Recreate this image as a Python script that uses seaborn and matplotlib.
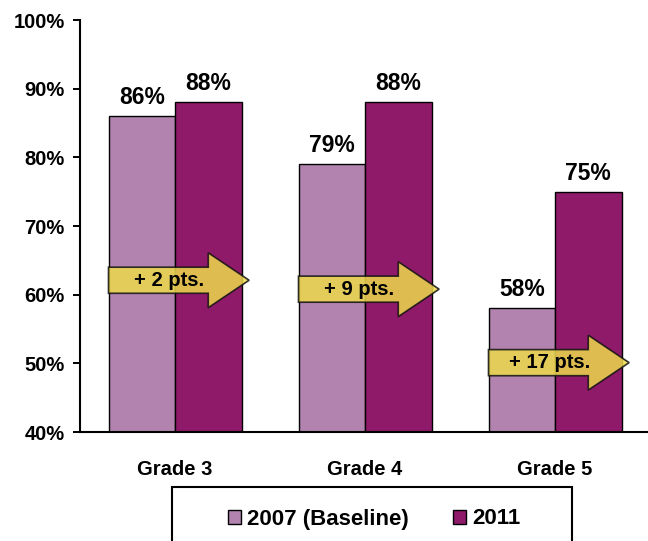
# Grade-level results: 2007 baseline vs 2011

import pandas as pd
import matplotlib.pyplot as plt
import seaborn as sns
from matplotlib.patches import FancyArrow, Rectangle

grades = ["Grade 3", "Grade 4", "Grade 5"]
years = ["2007 (Baseline)", "2011"]
baseline_2007 = [86, 79, 58]
results_2011 = [88, 88, 75]
y_ticks = [40, 50, 60, 70, 80, 90, 100]
arrow_y = [62.1, 60.8, 50.1]   # vertical centre of each "+ n pts." arrow

light = "#B183AE"
dark = "#8F1A6A"

sns.set_style("white")
plt.rcParams["font.family"] = ["Liberation Sans", "DejaVu Sans"]
plt.rcParams["font.weight"] = "bold"
plt.rcParams["text.color"] = "black"
plt.rcParams["xtick.color"] = "black"
plt.rcParams["ytick.color"] = "black"

df = pd.DataFrame({
    "grade": grades * 2,
    "year": [years[0]] * 3 + [years[1]] * 3,
    "value": baseline_2007 + results_2011,
})

fig = plt.figure(figsize=(6.48, 5.41), dpi=100)
ax = fig.add_axes([80 / 648, 1 - 432 / 541, 570 / 648, 412 / 541])

sns.barplot(data=df, x="grade", y="value", hue="year", palette=[light, dark],
            saturation=1, width=0.7, edgecolor="black", linewidth=1, ax=ax, legend=True)

ax.set_ylim(40, 100)
ax.set_xlim(-0.5, 2.5)
ax.set_yticks(y_ticks)
ax.set_yticklabels([f"{v}%" for v in y_ticks], fontsize=14.5, fontweight="bold")
ax.set_xticks(range(len(grades)))
ax.set_xticklabels(grades, fontsize=14.5, fontweight="bold")
ax.set_xticks([-0.5, 0.5, 1.5, 2.5], minor=True)
ax.tick_params(axis="x", which="major", length=0, pad=20)
ax.tick_params(axis="x", which="minor", length=5, width=1.4, direction="out", color="black")
ax.tick_params(axis="y", length=5, width=1.4, direction="out", color="black", pad=6, left=True)
ax.set_xlabel("")
ax.set_ylabel("")
sns.despine(ax=ax)
for side in ["left", "bottom"]:
    ax.spines[side].set_linewidth(1.5)
    ax.spines[side].set_color("black")

for cont in ax.containers:
    ax.bar_label(cont, fmt="%d%%", padding=5, fontsize=16.5, fontweight="bold", color="black")

# improvement arrows
for i, (a, b) in enumerate(zip(baseline_2007, results_2011)):
    arr = FancyArrow(i - 0.35, arrow_y[i], 0.74, 0, width=3.8, head_width=8.0,
                     head_length=0.215, length_includes_head=True,
                     facecolor="#EDDA4C", edgecolor="#111111", linewidth=1.2,
                     alpha=0.85, zorder=5)
    ax.add_patch(arr)
    ax.text(i - 0.03, arrow_y[i], f"+ {b - a} pts.", ha="center", va="center",
            fontsize=14.5, fontweight="bold", color="black", zorder=6)

# legend in a box running off the bottom edge
handles, labels = ax.get_legend_handles_labels()
ax.legend_.remove()
for h in handles:
    h.set_edgecolor("black")
leg = fig.legend(handles, labels, loc="center", ncol=2, frameon=False,
                 bbox_to_anchor=(374 / 648, 1 - 519 / 541), bbox_transform=fig.transFigure,
                 prop={"size": 16, "weight": "bold"}, handlelength=0.6, handleheight=0.6,
                 handletextpad=0.25, columnspacing=2.0)
for t in leg.get_texts():
    t.set_color("black")
fig.patches.append(Rectangle((172 / 648, -0.05), 400 / 648, 0.05 + (541 - 487) / 541,
                             transform=fig.transFigure, fill=False,
                             edgecolor="black", linewidth=1.5))

plt.savefig("out.png", dpi=100)
plt.close()
